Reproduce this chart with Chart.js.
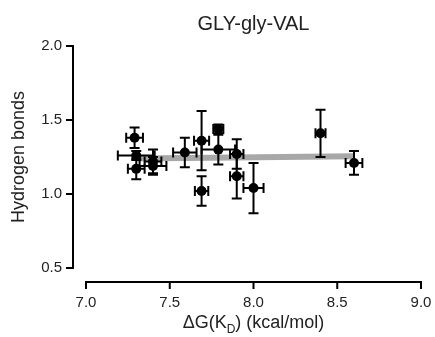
<!DOCTYPE html>
<html>
<head>
<meta charset="utf-8">
<script src="https://cdn.jsdelivr.net/npm/chart.js@4.4.1/dist/chart.umd.min.js"></script>
<style>
  html, body { margin: 0; padding: 0; background: #fff; }
  canvas { display: block; }
</style>
</head>
<body>
<canvas id="hbChart" width="435" height="337"></canvas>
<script>
// values
const dG        = [7.29, 7.30, 7.30, 7.40, 7.40, 7.59, 7.69, 7.69, 7.79, 7.79, 7.90, 7.90, 8.00, 8.40, 8.60];
const hBonds    = [1.38, 1.26, 1.17, 1.22, 1.19, 1.28, 1.36, 1.02, 1.44, 1.30, 1.27, 1.12, 1.04, 1.41, 1.21];
const dGErr     = [0.05, 0.11, 0.05, 0.05, 0.08, 0.07, 0.045, 0.04, 0.03, 0.10, 0.04, 0.04, 0.06, 0.03, 0.05];
const hBondsErr = [0.07, 0.03, 0.07, 0.08, 0.06, 0.10, 0.20, 0.10, 0.03, 0.10, 0.10, 0.15, 0.17, 0.16, 0.08];
const fitX = [7.3, 8.6];
const fitY = [1.24, 1.255];
const xTicks = [7.0, 7.5, 8.0, 8.5, 9.0];
const yTicks = [0.5, 1.0, 1.5, 2.0];

const FONT = '"Liberation Sans", Arial, Helvetica, sans-serif';
const TXT = '#222';

const errorBars = {
    id: 'errorBars',
    beforeDatasetDraw(chart, args) {
        if (args.index !== 1) return;
        const { ctx, scales: { x, y } } = chart;
        ctx.save();
        ctx.strokeStyle = '#000';
        ctx.lineWidth = 2;
        dG.forEach((v, i) => {
            const px = x.getPixelForValue(v);
            const py = y.getPixelForValue(hBonds[i]);
            const x0 = x.getPixelForValue(v - dGErr[i]);
            const x1 = x.getPixelForValue(v + dGErr[i]);
            const y0 = y.getPixelForValue(hBonds[i] - hBondsErr[i]);
            const y1 = y.getPixelForValue(hBonds[i] + hBondsErr[i]);
            const cap = 5;
            ctx.beginPath();
            ctx.moveTo(x0, py); ctx.lineTo(x1, py);
            ctx.moveTo(x0, py - cap); ctx.lineTo(x0, py + cap);
            ctx.moveTo(x1, py - cap); ctx.lineTo(x1, py + cap);
            ctx.moveTo(px, y0); ctx.lineTo(px, y1);
            ctx.moveTo(px - cap, y0); ctx.lineTo(px + cap, y0);
            ctx.moveTo(px - cap, y1); ctx.lineTo(px + cap, y1);
            ctx.stroke();
        });
        ctx.restore();
    }
};

// offset axes, title and x axis title (with subscript)
const prismAxes = {
    id: 'prismAxes',
    afterDraw(chart) {
        const { ctx, chartArea, scales: { x, y } } = chart;
        ctx.save();
        ctx.strokeStyle = '#000';
        ctx.lineWidth = 2;
        ctx.lineCap = 'square';

        const ax = chartArea.left - 13;
        ctx.beginPath();
        ctx.moveTo(ax, y.getPixelForValue(yTicks[0]));
        ctx.lineTo(ax, y.getPixelForValue(yTicks[yTicks.length - 1]));
        yTicks.forEach(t => {
            const ty = y.getPixelForValue(t);
            ctx.moveTo(ax, ty); ctx.lineTo(ax - 6, ty);
        });
        ctx.stroke();

        const ay = chartArea.bottom + 14;
        ctx.beginPath();
        ctx.moveTo(x.getPixelForValue(xTicks[0]), ay);
        ctx.lineTo(x.getPixelForValue(xTicks[xTicks.length - 1]), ay);
        xTicks.forEach(t => {
            const tx = x.getPixelForValue(t);
            ctx.moveTo(tx, ay); ctx.lineTo(tx, ay + 6);
        });
        ctx.stroke();

        const cx = (chartArea.left + chartArea.right) / 2;
        ctx.fillStyle = TXT;
        ctx.textAlign = 'center';
        ctx.textBaseline = 'alphabetic';
        ctx.font = '20px ' + FONT;
        ctx.fillText('GLY-gly-VAL', cx, 30);

        // ΔG(K_D) (kcal/mol)
        const parts = [['ΔG(K', 18, 0], ['D', 12, 5], [') (kcal/mol)', 18, 0]];
        let w = 0;
        parts.forEach(p => { ctx.font = p[1] + 'px ' + FONT; w += ctx.measureText(p[0]).width; });
        let sx = cx - w / 2;
        ctx.textAlign = 'left';
        parts.forEach(p => {
            ctx.font = p[1] + 'px ' + FONT;
            ctx.fillText(p[0], sx, 328 + p[2]);
            sx += ctx.measureText(p[0]).width;
        });
        ctx.restore();
    }
};

const ctx = document.getElementById('hbChart').getContext('2d');

new Chart(ctx, {
    type: 'scatter',
    data: {
        datasets: [
            {
                type: 'line',
                data: fitX.map((v, i) => ({ x: v, y: fitY[i] })),
                borderColor: '#a8a8a8',
                borderWidth: 6,
                borderCapStyle: 'butt',
                pointRadius: 0,
                fill: false,
                order: 2
            },
            {
                data: dG.map((v, i) => ({ x: v, y: hBonds[i] })),
                pointRadius: 5,
                pointBackgroundColor: '#000',
                pointBorderWidth: 0,
                order: 1
            }
        ]
    },
    options: {
        responsive: false,
        animation: false,
        layout: { padding: { top: 46, right: 14, left: 0, bottom: 0 } },
        plugins: {
            legend: { display: false },
            tooltip: { enabled: false }
        },
        scales: {
            x: {
                type: 'linear',
                min: 7, max: 9,
                afterFit(s) { s.height = 69; s.paddingLeft = 0; s.paddingRight = 0; },
                afterBuildTicks(s) { s.ticks = xTicks.map(v => ({ value: v })); },
                grid: { display: false, drawTicks: false },
                border: { display: false },
                ticks: {
                    padding: 26,
                    color: TXT,
                    font: { size: 15, family: FONT },
                    callback: v => v.toFixed(1)
                }
            },
            y: {
                min: 0.5, max: 2,
                afterFit(s) { s.width = 86; s.paddingTop = 0; s.paddingBottom = 0; },
                afterBuildTicks(s) { s.ticks = yTicks.map(v => ({ value: v })); },
                grid: { display: false, drawTicks: false },
                border: { display: false },
                ticks: {
                    padding: 24,
                    color: TXT,
                    font: { size: 15, family: FONT },
                    callback: v => v.toFixed(1)
                },
                title: {
                    display: true,
                    text: 'Hydrogen bonds',
                    color: TXT,
                    font: { size: 18, family: FONT },
                    padding: { top: 8, bottom: 0 }
                }
            }
        }
    },
    plugins: [errorBars, prismAxes]
});
</script>
</body>
</html>
